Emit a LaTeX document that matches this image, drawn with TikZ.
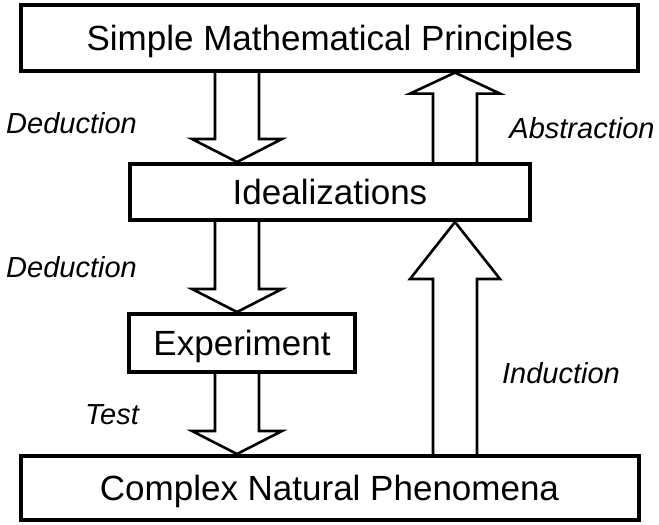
\documentclass[tikz,border=0pt]{standalone}
\usepackage{fontspec}
\setsansfont{Liberation Sans}
\usepackage{tikz}
\usetikzlibrary{
    positioning,
    calc,
    backgrounds
}
\tikzset{
    stage/.style={
        rectangle, draw=black, line width=4pt,
        minimum width=#1, align=center,
        text height=25pt, text depth=0pt,
        font=\fontsize{35}{42}\selectfont\sffamily
    },
    stage/.default=4cm,
    step label/.style={
        font=\fontsize{29}{35}\selectfont\sffamily\itshape
    },
    block arrow/.style={
        draw=black, fill=white, line width=2.6pt, line join=miter,
        to path={
            let \p1=(\tikztostart), \p2=(\tikztotarget),
                \n1={sign(\y2-\y1)} in
            (\x1-22pt,\y1) -- (\x1-22pt,{\y2-\n1*#1})
            -- (\x1-45pt,{\y2-\n1*#1}) -- (\x2,\y2)
            -- (\x1+45pt,{\y2-\n1*#1}) -- (\x1+22pt,{\y2-\n1*#1})
            -- (\x1+22pt,\y1)
        }
    },
    block arrow/.default=23pt
}

\begin{document}
\begin{tikzpicture}

    \useasboundingbox (0,0) rectangle (659pt,-525pt);

    % ── Stages ──
    \node[stage=617pt, minimum height=66pt] (principles) at (329.75pt,-37.6pt) {Simple Mathematical Principles};
    \node[stage=400pt, minimum height=56pt] (ideal) at (330pt,-192pt) {Idealizations};
    \node[stage=226pt, minimum height=58pt] (experiment) at (242pt,-343pt) {Experiment};
    \node[stage=618pt, minimum height=64pt] (phenomena) at (329.5pt,-488pt) {Complex Natural Phenomena};

    % ── Arrow columns ──
    \coordinate (downcol) at (237pt,0);
    \coordinate (upcol) at (455pt,0);

    \begin{scope}[on background layer]
        \draw[block arrow] (principles.south -| downcol) to (ideal.north -| downcol);
        \draw[block arrow] (ideal.south -| downcol) to (experiment.north -| downcol);
        \draw[block arrow] (experiment.south -| downcol) to (phenomena.north -| downcol);
        \draw[block arrow=21pt] (ideal.north -| upcol) to (principles.south -| upcol);
        \draw[block arrow=57pt] (phenomena.north -| upcol) to (ideal.south -| upcol);
    \end{scope}

    % ── Labels ──
    \node[step label] (deduct1) at (71.5pt,-123pt) {Deduction};
    \node[step label] (deduct2) at (71.5pt,-267pt) {Deduction};
    \node[step label] (test) at (112pt,-415pt) {Test};
    \node[step label] (abstract) at (582pt,-128pt) {Abstraction};
    \node[step label] (induct) at (561pt,-373pt) {Induction};

\end{tikzpicture}
\end{document}
